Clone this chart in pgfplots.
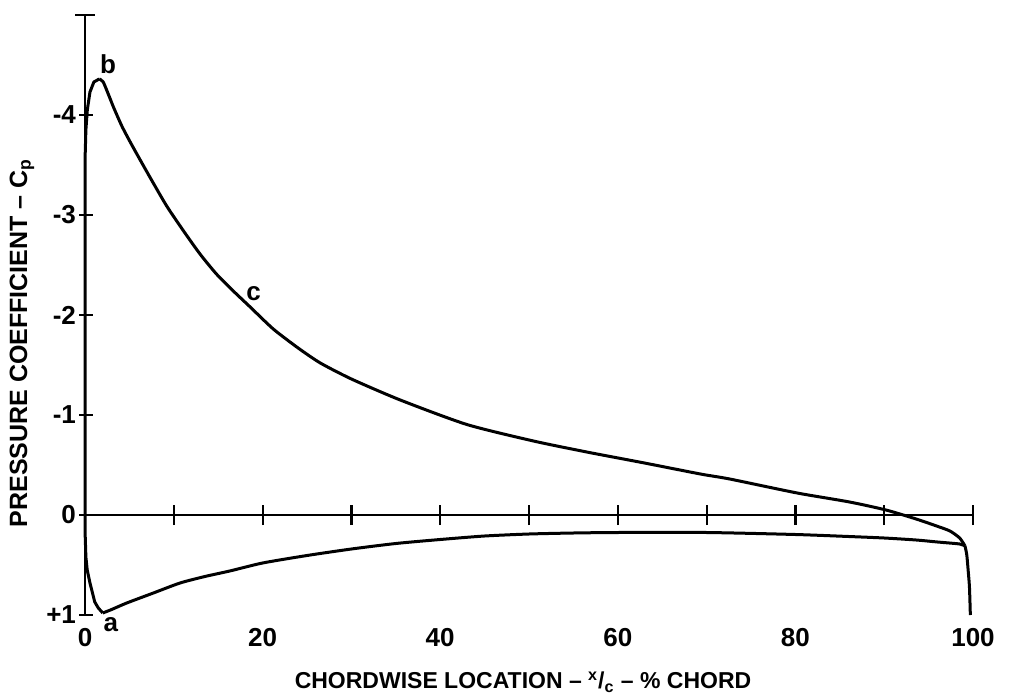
\documentclass[border=0pt]{standalone}
\usepackage{fontspec}
\setmainfont{Liberation Sans}
\usepackage{pgfplots}
\usepackage{pgfplotstable}
\pgfplotsset{compat=1.18}

\pgfplotstableread{
x y
2.0 0.98
1.5 0.93
1.1 0.87
0.56 0.68
0.25 0.55
0.1 0.42
0.02 0.2
0 0
0 -3.0
0.02 -3.6
0.1 -3.85
0.26 -4.05
0.56 -4.23
1.0 -4.33
1.6 -4.36
}\uppertabA

\pgfplotstableread{
x y
1.6 -4.36
2.05 -4.33
2.8 -4.17
3.2 -4.08
4.2 -3.88
5.4 -3.68
7.3 -3.38
9.2 -3.09
11.1 -2.84
12.95 -2.61
14.8 -2.41
16.7 -2.24
18.6 -2.08
21.2 -1.86
24.0 -1.67
26.5 -1.52
30.0 -1.36
35.5 -1.15
43.0 -0.905
50.5 -0.74
56.5 -0.63
63.0 -0.52
69.3 -0.41
72.6 -0.36
80.2 -0.22
86.1 -0.13
90.2 -0.05
93.6 0.04
95.9 0.11
97.4 0.16
98.5 0.23
99.1 0.31
}\uppertabB

\pgfplotstableread{
x y
2.0 0.98
3.0 0.945
4.7 0.88
7.7 0.78
10.7 0.68
13.5 0.615
16.3 0.56
20 0.48
25 0.405
30 0.34
35 0.285
40 0.245
45 0.21
50 0.19
55 0.18
60 0.175
70 0.175
80 0.195
86 0.215
90 0.23
93.6 0.25
96 0.27
98.5 0.29
99.1 0.31
}\lowertab

\pgfplotstableread{
x y
99.1 0.31
99.3 0.40
99.45 0.55
99.6 0.72
99.7 1.0
}\tetab

\begin{document}
\begin{tikzpicture}
\useasboundingbox (-42.5pt,-42pt) rectangle (465pt,307.5pt);
\begin{axis}[
  at={(0pt,0pt)}, anchor=south west,
  scale only axis, width=444pt, height=300pt,
  xmin=0, xmax=100, ymin=-5, ymax=1, y dir=reverse,
  clip=false,
  axis line style={draw=none},
  major tick length=0pt,
  xtick={0,20,40,60,80,100},
  xticklabels={0,20,40,60,80,100},
  ytick={-4,-3,-2,-1,0,1},
  yticklabels={-4,-3,-2,-1,0,+1},
  tick label style={font=\fontsize{13}{13}\selectfont\bfseries},
  xticklabel style={yshift=-3pt},
  yticklabel style={xshift=-1pt},
]
\addplot[line width=1.5pt, line join=round] table {\uppertabA};
\addplot[line width=1.5pt, line join=round, smooth, tension=0.4] table {\uppertabB};
\addplot[line width=1.5pt, line join=round, smooth, tension=0.4] table {\lowertab};
\addplot[line width=1.5pt, line join=round, smooth, tension=0.4] table {\tetab};
% axes
\draw[line width=1.3pt] (axis cs:0,-5) -- (axis cs:0,1);
\draw[line width=1.3pt] (axis cs:0,0) -- (axis cs:100,0);
\draw[line width=1.1pt] ([xshift=-5pt]axis cs:0,-5) -- ([xshift=5pt]axis cs:0,-5);
\draw[line width=1.1pt] ([xshift=-3pt]axis cs:0,-4) -- ([xshift=4pt]axis cs:0,-4);
\draw[line width=1.1pt] ([xshift=-3pt]axis cs:0,-3) -- ([xshift=4pt]axis cs:0,-3);
\draw[line width=1.1pt] ([xshift=-3pt]axis cs:0,-2) -- ([xshift=4pt]axis cs:0,-2);
\draw[line width=1.1pt] ([xshift=-3pt]axis cs:0,-1) -- ([xshift=4pt]axis cs:0,-1);
\draw[line width=1.1pt] ([xshift=-3pt]axis cs:0,0) -- (axis cs:0,0);
\draw[line width=1.1pt] ([xshift=-3pt]axis cs:0,1) -- ([xshift=4pt]axis cs:0,1);
\draw[line width=1.1pt] ([yshift=-5pt]axis cs:10,0) -- ([yshift=5pt]axis cs:10,0);
\draw[line width=1.1pt] ([yshift=-5pt]axis cs:20,0) -- ([yshift=5pt]axis cs:20,0);
\draw[line width=1.1pt] ([yshift=-5pt]axis cs:30,0) -- ([yshift=5pt]axis cs:30,0);
\draw[line width=1.1pt] ([yshift=-5pt]axis cs:40,0) -- ([yshift=5pt]axis cs:40,0);
\draw[line width=1.1pt] ([yshift=-5pt]axis cs:50,0) -- ([yshift=5pt]axis cs:50,0);
\draw[line width=1.1pt] ([yshift=-5pt]axis cs:60,0) -- ([yshift=5pt]axis cs:60,0);
\draw[line width=1.1pt] ([yshift=-5pt]axis cs:70,0) -- ([yshift=5pt]axis cs:70,0);
\draw[line width=1.1pt] ([yshift=-5pt]axis cs:80,0) -- ([yshift=5pt]axis cs:80,0);
\draw[line width=1.1pt] ([yshift=-5pt]axis cs:90,0) -- ([yshift=5pt]axis cs:90,0);
\draw[line width=1.1pt] ([yshift=-5pt]axis cs:100,0) -- ([yshift=5pt]axis cs:100,0);
% point labels
\node[font=\fontsize{13}{13}\selectfont\bfseries] at (axis cs:2.6,-4.51) {b};
\node[font=\fontsize{13}{13}\selectfont\bfseries] at (axis cs:19.0,-2.21) {c};
\node[font=\fontsize{13}{13}\selectfont\bfseries] at (axis cs:2.9,1.10) {a};
\end{axis}
\node[font=\fontsize{11.5}{11.5}\selectfont\bfseries] at (219pt,-33.5pt)
  {CHORDWISE LOCATION -- \textsuperscript{x}/\textsubscript{c} -- \% CHORD};
\node[font=\fontsize{12.5}{12.5}\selectfont\bfseries, rotate=90] at (-31.5pt,136pt)
  {PRESSURE COEFFICIENT -- C\textsubscript{p}};
\end{tikzpicture}
\end{document}
